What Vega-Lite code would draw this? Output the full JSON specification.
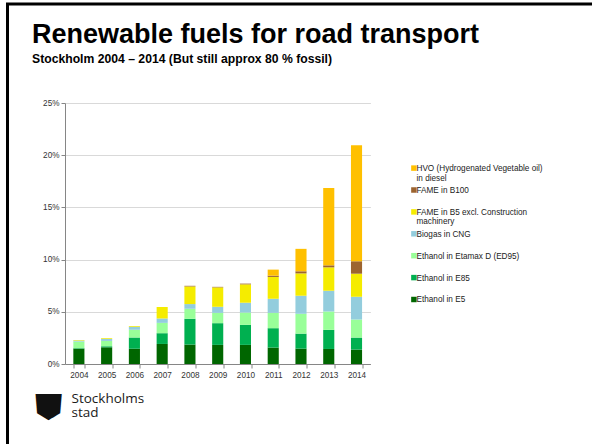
{
  "$schema": "https://vega.github.io/schema/vega-lite/v6.json",
  "width": 640,
  "height": 480,
  "padding": {"left": 7.5, "top": 4, "right": -55, "bottom": -40},
  "autosize": {"type": "none"},
  "background": "white",
  "config": {"view": {"stroke": "#000", "strokeWidth": 3}, "font": "Liberation Sans"},
  "title": {
    "text": "Renewable fuels for road transport",
    "subtitle": "Stockholm 2004 – 2014 (But still approx 80 % fossil)",
    "anchor": "start",
    "frame": "group",
    "orient": "top",
    "offset": -62,
    "dx": 24.5,
    "font": "Liberation Sans",
    "subtitleFont": "Liberation Sans",
    "fontSize": 27,
    "subtitleFontSize": 12.2,
    "fontWeight": "bold",
    "subtitleFontWeight": "bold",
    "color": "#000",
    "subtitleColor": "#000",
    "subtitlePadding": 4
  },
  "data": {
    "values": [
      {"year": "2004", "fuel": "Ethanol in E5", "share": 0.0147, "k": 1},
      {"year": "2004", "fuel": "Ethanol in E85", "share": 0.0005, "k": 2},
      {"year": "2004", "fuel": "Ethanol in Etamax D (ED95)", "share": 0.0063, "k": 3},
      {"year": "2004", "fuel": "Biogas in CNG", "share": 0.0010, "k": 4},
      {"year": "2004", "fuel": "FAME in B5 excl. Construction|machinery", "share": 0.0005, "k": 5},
      {"year": "2005", "fuel": "Ethanol in E5", "share": 0.0160, "k": 1},
      {"year": "2005", "fuel": "Ethanol in E85", "share": 0.0010, "k": 2},
      {"year": "2005", "fuel": "Ethanol in Etamax D (ED95)", "share": 0.0051, "k": 3},
      {"year": "2005", "fuel": "Biogas in CNG", "share": 0.0020, "k": 4},
      {"year": "2005", "fuel": "FAME in B5 excl. Construction|machinery", "share": 0.0007, "k": 5},
      {"year": "2006", "fuel": "Ethanol in E5", "share": 0.0147, "k": 1},
      {"year": "2006", "fuel": "Ethanol in E85", "share": 0.0106, "k": 2},
      {"year": "2006", "fuel": "Ethanol in Etamax D (ED95)", "share": 0.0074, "k": 3},
      {"year": "2006", "fuel": "Biogas in CNG", "share": 0.0029, "k": 4},
      {"year": "2006", "fuel": "FAME in B5 excl. Construction|machinery", "share": 0.0009, "k": 5},
      {"year": "2007", "fuel": "Ethanol in E5", "share": 0.0192, "k": 1},
      {"year": "2007", "fuel": "Ethanol in E85", "share": 0.0103, "k": 2},
      {"year": "2007", "fuel": "Ethanol in Etamax D (ED95)", "share": 0.0099, "k": 3},
      {"year": "2007", "fuel": "Biogas in CNG", "share": 0.0042, "k": 4},
      {"year": "2007", "fuel": "FAME in B5 excl. Construction|machinery", "share": 0.0110, "k": 5},
      {"year": "2008", "fuel": "Ethanol in E5", "share": 0.0186, "k": 1},
      {"year": "2008", "fuel": "Ethanol in E85", "share": 0.0247, "k": 2},
      {"year": "2008", "fuel": "Ethanol in Etamax D (ED95)", "share": 0.0096, "k": 3},
      {"year": "2008", "fuel": "Biogas in CNG", "share": 0.0045, "k": 4},
      {"year": "2008", "fuel": "FAME in B5 excl. Construction|machinery", "share": 0.0169, "k": 5},
      {"year": "2008", "fuel": "FAME in B100", "share": 0.0006, "k": 6},
      {"year": "2009", "fuel": "Ethanol in E5", "share": 0.0183, "k": 1},
      {"year": "2009", "fuel": "Ethanol in E85", "share": 0.0208, "k": 2},
      {"year": "2009", "fuel": "Ethanol in Etamax D (ED95)", "share": 0.0099, "k": 3},
      {"year": "2009", "fuel": "Biogas in CNG", "share": 0.0058, "k": 4},
      {"year": "2009", "fuel": "FAME in B5 excl. Construction|machinery", "share": 0.0186, "k": 5},
      {"year": "2009", "fuel": "FAME in B100", "share": 0.0005, "k": 6},
      {"year": "2010", "fuel": "Ethanol in E5", "share": 0.0183, "k": 1},
      {"year": "2010", "fuel": "Ethanol in E85", "share": 0.0192, "k": 2},
      {"year": "2010", "fuel": "Ethanol in Etamax D (ED95)", "share": 0.0118, "k": 3},
      {"year": "2010", "fuel": "Biogas in CNG", "share": 0.0094, "k": 4},
      {"year": "2010", "fuel": "FAME in B5 excl. Construction|machinery", "share": 0.0176, "k": 5},
      {"year": "2010", "fuel": "FAME in B100", "share": 0.0007, "k": 6},
      {"year": "2011", "fuel": "Ethanol in E5", "share": 0.0157, "k": 1},
      {"year": "2011", "fuel": "Ethanol in E85", "share": 0.0186, "k": 2},
      {"year": "2011", "fuel": "Ethanol in Etamax D (ED95)", "share": 0.0147, "k": 3},
      {"year": "2011", "fuel": "Biogas in CNG", "share": 0.0135, "k": 4},
      {"year": "2011", "fuel": "FAME in B5 excl. Construction|machinery", "share": 0.0209, "k": 5},
      {"year": "2011", "fuel": "FAME in B100", "share": 0.0012, "k": 6},
      {"year": "2011", "fuel": "HVO (Hydrogenated Vegetable oil)|in diesel", "share": 0.0058, "k": 7},
      {"year": "2012", "fuel": "Ethanol in E5", "share": 0.0147, "k": 1},
      {"year": "2012", "fuel": "Ethanol in E85", "share": 0.0144, "k": 2},
      {"year": "2012", "fuel": "Ethanol in Etamax D (ED95)", "share": 0.0190, "k": 3},
      {"year": "2012", "fuel": "Biogas in CNG", "share": 0.0173, "k": 4},
      {"year": "2012", "fuel": "FAME in B5 excl. Construction|machinery", "share": 0.0214, "k": 5},
      {"year": "2012", "fuel": "FAME in B100", "share": 0.0020, "k": 6},
      {"year": "2012", "fuel": "HVO (Hydrogenated Vegetable oil)|in diesel", "share": 0.0215, "k": 7},
      {"year": "2013", "fuel": "Ethanol in E5", "share": 0.0144, "k": 1},
      {"year": "2013", "fuel": "Ethanol in E85", "share": 0.0183, "k": 2},
      {"year": "2013", "fuel": "Ethanol in Etamax D (ED95)", "share": 0.0176, "k": 3},
      {"year": "2013", "fuel": "Biogas in CNG", "share": 0.0199, "k": 4},
      {"year": "2013", "fuel": "FAME in B5 excl. Construction|machinery", "share": 0.0224, "k": 5},
      {"year": "2013", "fuel": "FAME in B100", "share": 0.0019, "k": 6},
      {"year": "2013", "fuel": "HVO (Hydrogenated Vegetable oil)|in diesel", "share": 0.0741, "k": 7},
      {"year": "2014", "fuel": "Ethanol in E5", "share": 0.0138, "k": 1},
      {"year": "2014", "fuel": "Ethanol in E85", "share": 0.0115, "k": 2},
      {"year": "2014", "fuel": "Ethanol in Etamax D (ED95)", "share": 0.0173, "k": 3},
      {"year": "2014", "fuel": "Biogas in CNG", "share": 0.0218, "k": 4},
      {"year": "2014", "fuel": "FAME in B5 excl. Construction|machinery", "share": 0.0221, "k": 5},
      {"year": "2014", "fuel": "FAME in B100", "share": 0.0119, "k": 6},
      {"year": "2014", "fuel": "HVO (Hydrogenated Vegetable oil)|in diesel", "share": 0.1112, "k": 7}
    ]
  },
  "mark": {"type": "bar"},
  "encoding": {
    "x": {
      "field": "year",
      "type": "ordinal",
      "scale": {"range": [57.5, 362.9], "paddingInner": 0.6, "paddingOuter": 0.3},
      "axis": {
        "title": ["Stockholms", "stad"],
        "titleFont": "Open Sans",
        "titleFontSize": 13.5,
        "titleFontWeight": "normal",
        "titleColor": "#1a1a1a",
        "titleAlign": "left",
        "titleAnchor": "start",
        "titleX": 63.5,
        "titleY": 38.5,
        "titleBaseline": "alphabetic",
        "titleLineHeight": 14,
        "offset": -120,
        "labelFontSize": 8.2,
        "labelColor": "#333",
        "labelAngle": 0,
        "labelPadding": 3,
        "tickSize": 4,
        "tickColor": "#868686",
        "domainColor": "#868686",
        "tickBand": "extent",
        "grid": false
      }
    },
    "y": {
      "field": "share",
      "type": "quantitative",
      "stack": "zero",
      "scale": {"domain": [0, 0.25], "range": [360, 99], "nice": false},
      "axis": {
        "title": "☗",
        "titleAngle": 180,
        "titleFont": "DejaVu Sans",
        "titleFontSize": 36,
        "titleFontWeight": "normal",
        "titleColor": "#111",
        "titleAlign": "center",
        "titleBaseline": "middle",
        "titleX": -17,
        "titleY": 400,
        "offset": -57.5,
        "values": [0, 0.05, 0.1, 0.15, 0.2, 0.25],
        "format": "%",
        "labelFontSize": 8.2,
        "labelColor": "#333",
        "labelPadding": 2,
        "tickSize": 4,
        "tickColor": "#868686",
        "domainColor": "#868686",
        "grid": true,
        "gridColor": "#d9d9d9"
      }
    },
    "color": {
      "field": "fuel",
      "type": "nominal",
      "scale": {
        "domain": [
          "HVO (Hydrogenated Vegetable oil)|in diesel",
          "FAME in B100",
          "FAME in B5 excl. Construction|machinery",
          "Biogas in CNG",
          "Ethanol in Etamax D (ED95)",
          "Ethanol in E85",
          "Ethanol in E5"
        ],
        "range": ["#FFC000", "#9C6430", "#F5EC00", "#93CDDD", "#99FF99", "#00B050", "#006600"]
      },
      "legend": {
        "orient": "none",
        "legendX": 402.3,
        "legendY": 160,
        "title": null,
        "symbolType": "square",
        "symbolSize": 30,
        "symbolStrokeWidth": 0,
        "labelFontSize": 8.2,
        "labelColor": "#222",
        "labelExpr": "split(datum.label, '|')",
        "labelBaseline": "alphabetic",
        "labelOffset": -1.5,
        "labelLimit": 300,
        "gridAlign": "all",
        "rowPadding": 3.9,
        "padding": 0,
        "encode": {"labels": {"update": {"dy": {"value": 2.9}, "lineHeight": {"value": 9.6}}}}
      }
    },
    "order": {"field": "k", "type": "quantitative"}
  }
}
